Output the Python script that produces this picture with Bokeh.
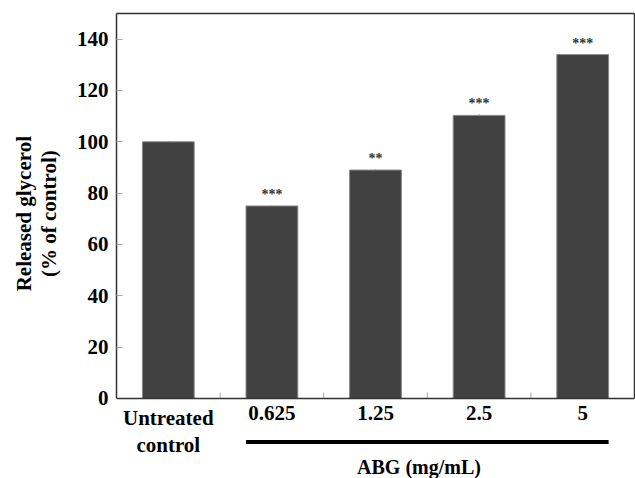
from bokeh.plotting import figure
from bokeh.layouts import row
from bokeh.models import (Range1d, FixedTicker, ColumnDataSource, LinearAxis, Span,
                          Whisker)
from bokeh.core.properties import value
from bokeh.embed import file_html
from bokeh.resources import INLINE
import math

categories = ["Untreated\ncontrol", "0.625", "1.25", "2.5", "5"]
glycerol = [100, 75, 89, 110.3, 134]
sd = [0.3, 0.2, 0.2, 0.4, 0.2]
signif = ["", "***", "**", "***", "***"]
y_ticks = [0, 20, 40, 60, 80, 100, 120, 140]
y_title = ["Released glycerol", "(% of control)"]
treated_label = "ABG (mg/mL)"

FONT = "Liberation Serif"
BAR_W = 0.5
LAB_W = 62

xs = list(range(len(categories)))
src = ColumnDataSource(dict(
    x=xs, top=glycerol, sd_up=[g + s for g, s in zip(glycerol, sd)],
    lab=signif, cat=categories,
))
boundaries = [i + 0.5 for i in xs[:-1]]
yr = Range1d(-31.2, 150)

p = figure(width=635 - LAB_W, height=478, output_backend="svg",
           toolbar_location=None, x_range=Range1d(-0.5, 4.5), y_range=yr,
           x_axis_location=None,
           min_border_left=116 - LAB_W, min_border_top=13, min_border_bottom=0,
           min_border_right=1)
p.xgrid.visible = False
p.ygrid.visible = False
p.outline_line_color = None
p.background_fill_color = "white"
p.border_fill_color = "white"

# bars, tiny error bars and significance marks
p.vbar(x="x", top="top", width=BAR_W, source=src, fill_color="#414141",
       line_color="#8a8a8a", line_width=1)
p.add_layout(Whisker(base="x", upper="sd_up", lower="top", source=src,
                     line_color="#8a8a8a", line_width=1, upper_head=None,
                     lower_head=None))
p.text(x="x", y="top", text="lab", source=src, text_align="center",
       text_baseline="bottom", y_offset=-4, text_font=value(FONT),
       text_font_size="14px", text_font_style="bold", text_color="#333333")

# y axis (left border)
ya = p.yaxis[0]
ya.bounds = (0, 150)
ya.ticker = FixedTicker(ticks=y_ticks, minor_ticks=[])
ya.major_tick_in = 6
ya.major_tick_out = 0
ya.minor_tick_in = 0
ya.minor_tick_out = 0
ya.major_tick_line_color = "#aaaaaa"
ya.axis_line_color = "#333333"
ya.axis_line_width = 1.5
ya.major_label_text_font = FONT
ya.major_label_text_font_size = "21px"
ya.major_label_text_font_style = "bold"
ya.major_label_text_color = "black"
ya.major_label_standoff = 8

# top and right borders
top_ax = LinearAxis(ticker=FixedTicker(ticks=[]), major_label_text_font_size="0px",
                    axis_line_color="#333333", axis_line_width=1.5,
                    major_tick_in=0, major_tick_out=0, minor_tick_in=0,
                    minor_tick_out=0)
p.add_layout(top_ax, "above")
right_ax = LinearAxis(ticker=FixedTicker(ticks=[]), bounds=(0, 150),
                      major_label_text_font_size="0px",
                      axis_line_color="#333333", axis_line_width=1.5,
                      major_tick_in=0, major_tick_out=0, minor_tick_in=0,
                      minor_tick_out=0)
p.add_layout(right_ax, "right")

# bottom border (x axis line at y = 0) with ticks between categories
p.add_layout(Span(location=0, dimension="width", line_color="#333333",
                  line_width=1.5))
p.segment(x0=boundaries, y0=[0] * len(boundaries), x1=boundaries,
          y1=[2.3] * len(boundaries), line_color="#aaaaaa", line_width=1)

# category labels
p.text(x="x", y=0, text="cat", source=src, text_align="center",
       text_baseline="top", y_offset=8, text_font=value(FONT),
       text_font_size="21px", text_font_style="bold", text_color="black",
       text_line_height=1.1)

# treatment bracket and label
p.segment(x0=[xs[1] - BAR_W / 2], y0=[-17], x1=[xs[-1] + BAR_W / 2], y1=[-17],
          line_color="black", line_width=4)
p.text(x=[2.42], y=[-26.8], text=[treated_label], text_align="center",
       text_baseline="alphabetic", text_font=value(FONT), text_font_size="20px",
       text_font_style="bold", text_color="black")

# y-axis title strip (shares the y scale of the chart)
lab = figure(width=LAB_W, height=478, output_backend="svg", toolbar_location=None,
             x_range=Range1d(0, LAB_W), y_range=yr, x_axis_location=None,
             y_axis_location=None, min_border_left=0, min_border_right=0,
             min_border_top=13, min_border_bottom=0)
lab.xgrid.visible = False
lab.ygrid.visible = False
lab.outline_line_color = None
lab.text(x=[23.5, 48.5], y=[72, 72], text=y_title, angle=math.pi / 2,
         text_align="center", text_baseline="middle", text_font=value(FONT),
         text_font_size="21px", text_font_style="bold", text_color="black")

layout = row(lab, p)
open("out.html", "w").write(file_html(layout, INLINE))
